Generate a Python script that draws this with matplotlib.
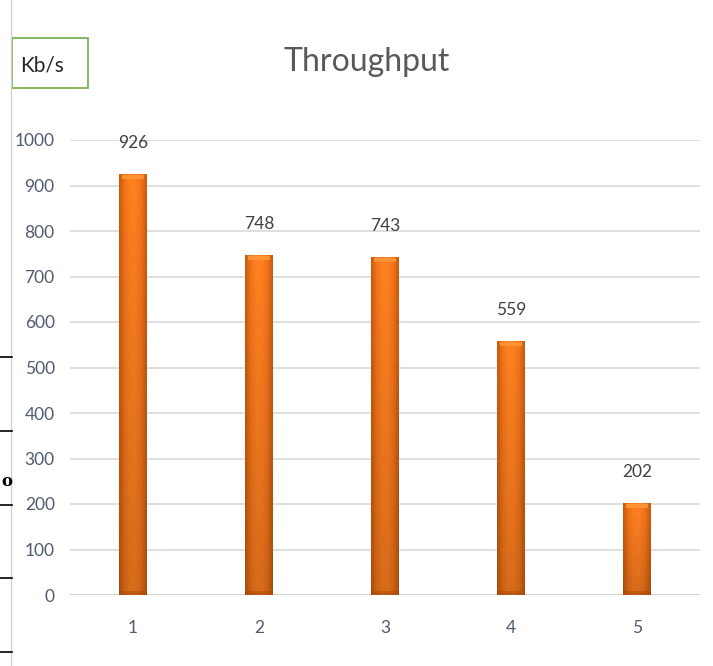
import numpy as np
import matplotlib.pyplot as plt
from matplotlib.patches import Rectangle
from matplotlib.colors import LinearSegmentedColormap

categories = ['1', '2', '3', '4', '5']
throughput = [926, 748, 743, 559, 202]
y_ticks = [0, 100, 200, 300, 400, 500, 600, 700, 800, 900, 1000]

plt.rcParams['font.family'] = ['Lato', 'DejaVu Sans']

fig = plt.figure(figsize=(7.13, 6.66), dpi=100)
W, H = 713, 666
ax = fig.add_axes([70 / W, 1 - 595 / H, 630 / W, 455 / H])

x = np.arange(len(categories))
bar_w = 0.22
bars = ax.bar(x, throughput, width=bar_w, color='none', zorder=3)

# orange bevelled gradient for each bar
cmap = LinearSegmentedColormap.from_list(
    'orng', ['#c85a0e', '#f2741a', '#ff8020', '#ff8020', '#f2741a', '#c85a0e'])
grad_x = np.linspace(0, 1, 64)
for b in bars:
    bx, by = b.get_x(), b.get_y()
    bw, bh = b.get_width(), b.get_height()
    vert = np.linspace(1.0, 0.84, 128)[:, None]
    img = cmap(grad_x)[None, :, :3] * vert[:, :, None]
    img = np.clip(img, 0, 1)
    im = ax.imshow(img, extent=[bx, bx + bw, by, by + bh], aspect='auto',
                   zorder=3, interpolation='bilinear')
    clip = Rectangle((bx, by), bw, bh, transform=ax.transData)
    im.set_clip_path(clip)
    # top highlight and darker base
    ax.add_patch(Rectangle((bx + bw * 0.1, by + bh - 11), bw * 0.8, 9,
                           color='#ff9a3c', lw=0, zorder=4, alpha=0.8))
    ax.add_patch(Rectangle((bx, by), bw, 8, color='#a84a0a', lw=0, zorder=4, alpha=0.5))

for xi, v in zip(x, throughput):
    ax.text(xi, v + 68, str(v), ha='center', va='center', fontsize=12.5,
            color='#404040')

ax.set_xlim(-0.5, len(categories) - 0.5)
ax.set_ylim(0, 1000)
ax.set_yticks(y_ticks)
ax.set_xticks(x)
ax.set_xticklabels(categories)
ax.tick_params(axis='both', length=0, labelsize=12.5, labelcolor='#4f5b6e')
ax.tick_params(axis='y', pad=11)
ax.tick_params(axis='x', pad=18)
ax.grid(axis='y', color='#d9d9d9', lw=1.2, zorder=0)
for s in ax.spines.values():
    s.set_visible(False)
ax.axhline(0, color='#d0d0d0', lw=2, zorder=2)

fig.text(367 / W, 1 - 62 / H, 'Throughput', ha='center', va='center',
         fontsize=23, color='#595959')

# unit box
fig.patches.append(Rectangle((12 / W, 1 - 88 / H), 76 / W, 50 / H,
                             transform=fig.transFigure, fill=False,
                             edgecolor='#70ad47', lw=1.2))
fig.text(42 / W, 1 - 66 / H, 'Kb/s', ha='center', va='center',
         fontsize=15, color='#262626')

# page artefacts at the left edge
fig.add_artist(plt.Line2D([11 / W, 11 / W], [0, 1], color='#d0d0d0', lw=1))
for yp in [357, 431, 505, 578, 652]:
    fig.add_artist(plt.Line2D([0, 12 / W], [1 - yp / H] * 2, color='black', lw=1.2))
fig.text(1 / W, 1 - 482 / H, 'o', ha='left', va='center', fontsize=12,
         fontweight='bold', family='DejaVu Serif', color='black')

fig.savefig('out.png', dpi=100)
